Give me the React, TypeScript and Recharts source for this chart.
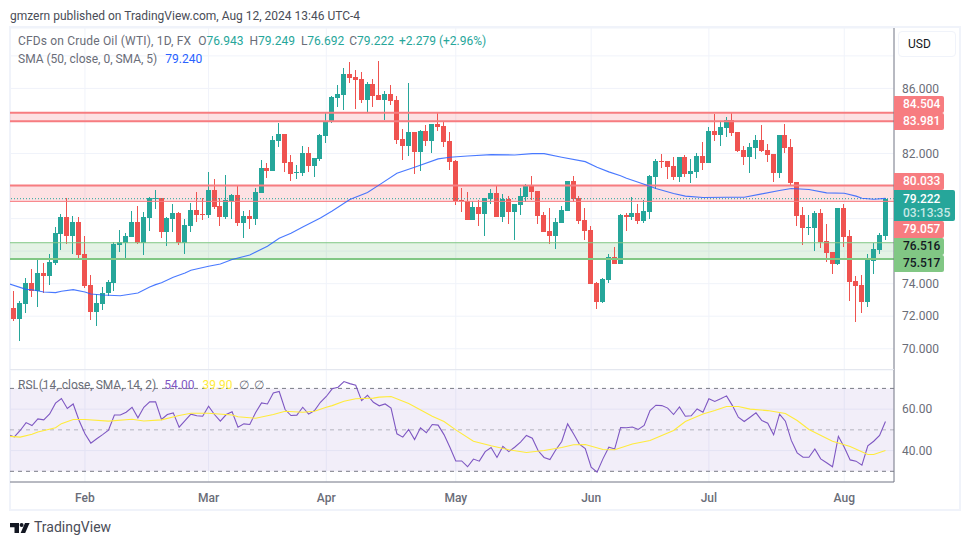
import React from "react";
import {
  ComposedChart, Bar, Line, XAxis, YAxis, CartesianGrid, ReferenceArea, ReferenceLine,
} from "recharts";

const opens = [72.67,72.48,71.81,72.73,74.02,73.53,74.64,74.45,75.25,77.03,78.08,76.91,77.77,75.8,73.9,72.24,72.73,73.41,74.02,76.36,76.48,76.85,77.77,76.48,78.02,79.21,79.25,77.16,77.96,78.33,76.48,77.53,78.51,78.26,78.2,79.74,78.76,78.08,79.06,79.43,77.71,78.14,77.96,79.56,81.09,80.91,82.75,83.18,81.46,80.83,80.8,82.04,81.24,81.67,83.08,83.94,85.42,85.6,86.89,86.71,86.59,85.3,86.28,85.6,85.3,85.66,85.3,82.9,82.47,83.33,82.1,83.39,82.77,83.82,83.7,82.77,81.54,79.13,79.06,77.9,78.69,78.26,79.19,79.56,78.08,79.19,78.39,78.82,79.31,79.99,79.68,78.2,77.22,76.91,77.71,78.45,80.29,79.25,77.9,77.28,74.02,72.85,74.21,75.62,75.19,78.21,78.08,78.33,77.84,78.39,80.55,81.53,81.53,81.22,80.55,81.77,80.73,80.85,81.84,81.41,83.37,83.13,83.56,84.05,83.31,82.21,81.77,82.33,82.82,82.21,81.96,80.79,83.13,82.39,80.24,78.21,77.41,77.41,78.33,76.61,75.93,75.19,78.64,76.92,74.15,73.9,72.86,75.38,76.06,76.943];
const highs = [72.7,73.53,72.91,74.33,74.88,75.43,75.25,75.8,77.46,78.26,79.25,78.14,78.08,76.91,74.51,73.34,73.77,74.2,76.54,77.28,77.1,78.45,78.76,78.39,79.31,79.74,79.25,78.08,78.88,78.39,77.96,78.94,79.62,79.25,80.85,80.42,79.25,80.66,79.49,79.99,78.45,78.51,79.86,81.59,81.4,83.06,83.86,83.18,81.89,81.28,82.47,82.4,81.73,83.2,84.5,85.54,86.22,87.26,87.63,87.14,87.02,86.4,86.59,87.69,85.85,86.22,85.54,83.51,86.34,83.33,83.45,83.76,83.82,84.5,83.94,83.33,81.6,79.86,79.62,79.06,79.13,79.25,79.8,79.99,79.49,79.37,78.88,79.86,80.11,80.6,79.68,78.39,78.63,78.02,78.76,80.29,80.6,79.37,78.63,77.53,74.08,74.33,75.8,76.23,78.27,78.33,79.31,78.88,79.13,80.67,81.65,81.96,81.53,81.77,81.77,81.9,81.65,82.02,82.7,83.62,84.42,83.93,84.23,84.54,83.31,82.45,82.64,83.13,83.74,82.58,81.96,83.13,83.81,82.88,80.24,78.7,78.21,78.45,78.58,77.65,75.93,78.64,78.88,77.29,74.46,74.52,75.81,76.49,77.1,79.249];
const lows = [72.3,71.68,70.45,72.18,73.16,72.54,73.41,73.9,75.13,76.05,76.42,75.8,75.5,73.71,71.75,71.38,72.36,73.22,73.53,75.93,75.5,76.85,76.42,75.74,77.22,78.57,76.79,76.3,77.16,76.36,75.8,77.16,77.77,77.9,78.02,78.57,77.53,77.96,78.0,77.53,76.79,77.34,77.59,79.56,80.48,80.91,82.38,80.85,80.29,80.42,80.62,80.87,80.56,81.54,82.65,83.88,84.86,84.68,86.34,84.74,85.11,84.56,84.86,85.3,84.06,84.99,82.59,81.61,81.85,80.74,80.93,82.47,82.04,83.39,82.4,80.99,78.84,78.39,77.9,77.9,77.53,76.91,78.88,78.08,77.77,77.65,76.66,78.2,79.0,79.13,77.65,77.16,76.42,76.11,77.71,78.45,79.0,77.65,76.66,73.96,72.42,72.79,74.02,75.19,75.19,77.22,77.9,77.65,77.72,77.96,79.81,81.1,80.42,80.36,80.24,80.55,80.18,80.48,80.98,81.41,82.76,82.45,83.0,83.07,82.08,81.28,80.79,81.65,82.08,81.47,80.24,80.48,82.02,80.05,77.53,76.36,76.98,75.99,76.18,75.32,74.58,75.13,76.24,72.92,71.63,72.18,72.55,74.58,75.81,76.692];
const closes = [72.4,71.81,72.79,74.02,73.53,74.64,74.45,75.31,77.1,78.08,76.91,77.77,75.74,73.84,72.24,72.79,73.41,74.08,76.42,76.54,76.91,77.77,76.48,78.08,79.25,79.25,77.16,78.02,78.33,76.48,77.59,78.51,78.2,78.22,79.74,78.69,78.08,79.13,79.43,77.71,78.14,77.96,79.62,81.09,80.91,82.82,83.18,81.4,80.72,80.87,82.04,81.24,81.73,83.14,84.0,85.48,85.66,86.89,86.65,86.53,85.3,86.28,85.54,85.3,85.66,85.23,82.84,82.47,83.33,82.1,83.39,82.77,83.82,83.63,82.71,81.48,79.08,79.06,77.9,78.69,78.26,79.25,79.56,78.08,79.19,78.39,78.88,79.37,79.99,79.62,78.14,77.16,76.91,77.77,78.51,80.29,79.19,77.83,77.22,73.96,72.85,74.27,75.62,75.19,78.21,78.08,78.33,77.84,78.45,80.61,81.53,81.47,81.16,80.55,81.77,80.73,80.91,81.84,81.41,83.37,83.13,83.62,84.05,83.25,82.14,81.77,82.39,82.82,82.14,81.9,80.79,83.13,82.33,80.18,78.15,77.41,77.47,78.33,76.55,75.87,75.19,78.64,76.85,74.09,73.84,72.86,75.44,76.12,76.98,79.222];

const smaIndex = [0,3,4,6,8,9,11,13,14,16,19,22,24,25,26,28,30,31,34,36,38,41,44,46,48,50,53,55,58,61,63,66,69,73,75,78,82,86,89,91,94,98,100,102,104,105,108,110,113,115,118,122,125,128,131,133,136,139,142,144,145,147,149];
const smaValues = [74.0,73.65,73.63,73.49,73.45,73.53,73.63,73.49,73.36,73.3,73.26,73.43,73.8,73.94,74.06,74.39,74.66,74.82,75.07,75.21,75.48,75.76,76.3,76.79,77.1,77.48,78.04,78.47,79.17,79.6,80.07,80.78,81.15,81.67,81.77,81.85,81.93,81.91,81.99,81.99,81.77,81.5,81.15,80.87,80.63,80.48,80.11,79.85,79.54,79.38,79.3,79.31,79.31,79.52,79.73,79.85,79.79,79.58,79.56,79.38,79.25,79.19,79.24];

const rsiValues = [47.7,46.6,49.7,53.5,52.1,55.3,54.8,57.7,62.9,65.1,60.3,62.5,54.5,48.1,43.6,45.7,47.7,49.8,57.2,57.2,58.5,60.9,55.8,60.9,63.5,63.5,55.0,57.4,58.2,51.3,54.5,57.6,56.8,56.6,61.4,57.4,54.2,57.4,58.7,51.3,52.9,52.6,58.4,63.0,62.5,67.8,68.5,59.8,56.9,57.1,60.9,57.6,59.3,63.3,66.1,69.8,70.6,73.3,72.3,71.5,64.1,66.7,63.3,61.6,62.5,60.5,48.1,46.5,50.2,45.3,51.0,48.6,52.6,52.3,47.7,41.6,35.0,35.0,32.2,35.9,34.9,39.5,41.5,36.7,42.0,39.5,41.6,44.1,47.3,46.0,39.9,36.7,35.7,40.4,44.4,52.9,48.1,43.1,41.0,32.0,29.6,36.0,41.6,40.8,51.1,51.0,51.4,50.2,52.1,59.3,61.9,61.7,60.5,57.4,61.1,56.6,56.8,60.1,58.5,65.0,63.7,65.0,66.4,61.7,56.1,54.0,56.1,58.2,54.5,53.2,47.6,57.6,54.2,44.9,38.9,36.8,36.8,40.8,36.0,34.1,32.2,46.9,41.6,35.5,34.9,33.0,42.3,44.5,47.3,54.0];
const rsiSmaIndex = [0,2,4,5,8,9,11,13,17,21,23,26,29,31,34,38,39,42,45,47,50,52,54,55,57,59,62,63,65,68,72,74,76,79,82,85,88,91,94,96,98,101,103,106,109,111,113,115,118,120,122,124,126,129,132,134,136,140,143,146,147,149];
const rsiSmaValues = [46.9,46.5,47.9,49.0,51.0,53.0,55.0,55.0,54.2,55.1,54.3,54.8,56.9,58.0,58.0,57.2,56.3,55.6,57.4,59.0,58.5,59.0,60.9,61.7,63.8,65.0,65.3,65.8,66.1,62.7,56.6,54.0,50.0,44.5,42.3,40.4,39.1,40.0,41.5,42.8,42.9,40.5,40.4,43.2,44.9,47.3,49.7,54.0,57.7,59.3,61.3,61.3,60.0,59.3,57.9,54.5,50.2,44.5,42.0,38.1,38.1,40.0];

const monthTicks = [13,34,54,76,99,119,142];
const monthLabels = ["Feb","Mar","Apr","May","Jun","Jul","Aug"];
const priceTicks = [70,72,74,76,78,80,82,84,86,88];
const shownPriceTicks = [70,72,74,82,86];
const rsiTicks = [40,60];

const redLevels = [84.504,83.981,80.033,79.057];
const greenLevels = [76.516,75.517];
const currentPrice = 79.222;

const UP = "#26a69a";
const DOWN = "#ef5350";
const RED_TAG = "#f77c80";
const GREEN_TAG = "#81c784";
const GRID = "#f0f3fa";
const AXIS = "#787b86";
const TEXT = "#6a6d78";
const FONT = "Roboto, sans-serif";

const X_DOMAIN: [number, number] = [0.265, 150.45];

const rows = opens.map((o, i) => {
  const smaAt = smaIndex.indexOf(i);
  const rsiSmaAt = rsiSmaIndex.indexOf(i);
  return {
    i, o, h: highs[i], l: lows[i], c: closes[i],
    range: [lows[i], highs[i]],
    sma: smaAt >= 0 ? smaValues[smaAt] : null,
    rsi: rsiValues[i],
    rsiSma: rsiSmaAt >= 0 ? rsiSmaValues[rsiSmaAt] : null,
  };
});

function Candle(props: any) {
  const { x, y, width, height, payload } = props;
  const top = Math.min(y, y + height);
  const span = Math.abs(height);
  const { o, h, l, c } = payload;
  const color = c >= o ? UP : DOWN;
  const at = (v: number) => (h === l ? top : top + ((h - v) / (h - l)) * span);
  const cx = Math.floor(x + width / 2) + 0.5;
  const bodyTop = Math.round(at(Math.max(o, c)));
  const bodyBottom = Math.round(at(Math.min(o, c)));
  return (
    <g shapeRendering="crispEdges">
      <rect x={cx - 0.5} y={top} width={1} height={span} fill={color} />
      <rect x={cx - 2.5} y={bodyTop} width={5} height={Math.max(1, bodyBottom - bodyTop)} fill={color} />
    </g>
  );
}

function Tag({ top, height, bg, color, width = 50, children }: any) {
  return (
    <div style={{
      position: "absolute", left: 894, top, width, height, background: bg, color,
      fontSize: 12, fontWeight: 500, lineHeight: height + "px", paddingLeft: 9, boxSizing: "border-box", borderRadius: "0 2px 2px 0",
    }}>{children}</div>
  );
}

function Abs({ x, y, size = 12, color = TEXT, children }: any) {
  return (
    <div style={{ position: "absolute", left: x, top: y, fontSize: size, color, whiteSpace: "pre", lineHeight: "16px" }}>
      {children}
    </div>
  );
}

const gap = (color: string, text: string, left = 0) => (
  <span style={{ color, marginLeft: left }}>{text}</span>
);

export default function App() {
  return (
    <div style={{ position: "absolute", left: 0, top: 0, width: 970, height: 545, background: "#fff", overflow: "hidden", fontFamily: FONT }}>
      <div style={{ position: "absolute", left: 9, top: 26, width: 952, height: 485, border: "2px solid #f0f3fa", boxSizing: "border-box" }} />

      <div style={{ position: "absolute", left: 10, top: 28 }}>
        <ComposedChart width={950} height={342} data={rows} margin={{ top: 0, right: 0, bottom: 0, left: 0 }}>
          <CartesianGrid stroke={GRID} strokeWidth={1} />
          <XAxis dataKey="i" type="number" domain={X_DOMAIN} allowDataOverflow hide ticks={monthTicks} interval={0} />
          <YAxis
            orientation="right" width={66} domain={[68.693, 89.714]} allowDataOverflow ticks={priceTicks} interval={0}
            tickLine={false} axisLine={{ stroke: AXIS }} tickMargin={2}
            tick={{ fill: TEXT, fontSize: 12, fontFamily: FONT }}
            tickFormatter={(v: number) => (shownPriceTicks.includes(v) ? v.toFixed(3) : "")}
          />
          <ReferenceArea y1={redLevels[1]} y2={redLevels[0]} fill="#f23645" fillOpacity={0.15} stroke="none" />
          <ReferenceArea y1={redLevels[3]} y2={redLevels[2]} fill="#f23645" fillOpacity={0.15} stroke="none" />
          <ReferenceArea y1={greenLevels[1]} y2={greenLevels[0]} fill="#4caf50" fillOpacity={0.15} stroke="none" />
          <ReferenceLine y={redLevels[0]} stroke={RED_TAG} strokeWidth={2} />
          <ReferenceLine y={redLevels[1]} stroke={RED_TAG} strokeWidth={2} />
          <ReferenceLine y={redLevels[2]} stroke={RED_TAG} strokeWidth={2} />
          <ReferenceLine y={redLevels[3]} stroke={RED_TAG} strokeWidth={1} />
          <ReferenceLine y={greenLevels[0]} stroke={GREEN_TAG} strokeWidth={1} />
          <ReferenceLine y={greenLevels[1]} stroke={GREEN_TAG} strokeWidth={2} />
          <ReferenceLine y={currentPrice} stroke={UP} strokeWidth={1} strokeDasharray="1 2" />
          <Bar dataKey="range" barSize={5} shape={<Candle />} isAnimationActive={false} />
          <Line dataKey="sma" stroke="#2962ff" strokeWidth={1.1} strokeOpacity={0.85} dot={false} connectNulls type="linear" isAnimationActive={false} />
        </ComposedChart>
      </div>

      <div style={{ position: "absolute", left: 10, top: 370 }}>
        <ComposedChart width={950} height={140} data={rows} margin={{ top: 0, right: 0, bottom: 0, left: 0 }}>
          <CartesianGrid stroke={GRID} strokeWidth={1} />
          <XAxis
            dataKey="i" type="number" domain={X_DOMAIN} allowDataOverflow ticks={monthTicks} interval={0} height={28}
            tickLine={false} axisLine={{ stroke: AXIS }} tickMargin={5}
            tick={{ fill: TEXT, fontSize: 12, fontFamily: FONT, fontWeight: 500 }}
            tickFormatter={(v: number) => monthLabels[monthTicks.indexOf(v)]}
          />
          <YAxis
            orientation="right" width={66} domain={[24.84, 78.88]} allowDataOverflow ticks={rsiTicks} interval={0}
            tickLine={false} axisLine={{ stroke: AXIS }} tickMargin={2}
            tick={{ fill: TEXT, fontSize: 12, fontFamily: FONT }}
            tickFormatter={(v: number) => v.toFixed(2)}
          />
          <ReferenceArea y1={30} y2={70} fill="#7e57c2" fillOpacity={0.1} stroke="none" />
          <ReferenceLine y={70} stroke={AXIS} strokeDasharray="4 4" />
          <ReferenceLine y={50} stroke={AXIS} strokeOpacity={0.5} strokeDasharray="4 4" />
          <ReferenceLine y={30} stroke={AXIS} strokeDasharray="4 4" />
          <Line dataKey="rsi" stroke="#7e57c2" strokeWidth={1.1} dot={false} type="linear" isAnimationActive={false} />
          <Line dataKey="rsiSma" stroke="#ffeb3b" strokeWidth={1.1} dot={false} connectNulls type="linear" isAnimationActive={false} />
        </ComposedChart>
      </div>
      <div style={{ position: "absolute", left: 10, top: 369, width: 884, height: 1, background: "#e4e7ef" }} />

      <Tag top={96} height={17} bg={RED_TAG} color="#fff">84.504</Tag>
      <Tag top={113} height={17} bg={RED_TAG} color="#fff">83.981</Tag>
      <Tag top={173} height={17} bg={RED_TAG} color="#fff">80.033</Tag>
      <Tag top={221} height={17} bg={RED_TAG} color="#fff">79.057</Tag>
      <Tag top={238} height={17} bg={GREEN_TAG} color="#131722">76.516</Tag>
      <Tag top={255} height={17} bg={GREEN_TAG} color="#131722">75.517</Tag>
      <div style={{ position: "absolute", left: 894, top: 190, width: 61, height: 31, background: UP, color: "#fff", fontSize: 12, fontWeight: 500, paddingLeft: 9, paddingTop: 2, boxSizing: "border-box", borderRadius: "0 2px 2px 0", lineHeight: "14px" }}>
        <div>79.222</div>
        <div style={{ color: "#c8e9e6" }}>03:13:35</div>
      </div>

      <div style={{ position: "absolute", left: 898, top: 31, width: 58, height: 26, border: "1px solid #f0f3fa", borderRadius: 4, boxSizing: "border-box", fontSize: 12, color: "#131722", lineHeight: "24px", paddingLeft: 9 }}>USD</div>

      <Abs x={10} y={8} color="#4a4d57">gmzern published on TradingView.com, Aug 12, 2024 13:46 UTC-4</Abs>
      <Abs x={18} y={33}><span style={{ letterSpacing: 0.17 }}>CFDs on Crude Oil (WTI), 1D, FX</span><span style={{ marginLeft: 7 }}>O</span>{gap(UP, "76.943")}<span style={{ marginLeft: 6 }}>H</span>{gap(UP, "79.249")}<span style={{ marginLeft: 6 }}>L</span>{gap(UP, "76.692")}<span style={{ marginLeft: 5 }}>C</span>{gap(UP, "79.222")}{gap(UP, "+2.279 (+2.96%)", 5)}</Abs>
      <Abs x={18} y={51}>SMA (50, close, 0, SMA, 5){gap("#2962ff", "79.240", 8)}</Abs>
      <Abs x={18} y={377}>RSI (14, close, SMA, 14, 2){gap("#7e57c2", "54.00", 8)}{gap("#ffeb3b", "39.90", 8)}<span style={{ marginLeft: 6 }}>∅</span><span style={{ marginLeft: 5 }}>∅</span></Abs>

      <svg style={{ position: "absolute", left: 10, top: 522 }} width={20} height={11} viewBox="0 0 20 11">
        <path d="M0 1h9v10H4.5V5.2H0z" fill="#131722" />
        <circle cx={11.6} cy={3} r={2} fill="#131722" />
        <path d="M15 1h4.6l-4.4 10h-4.6z" fill="#131722" />
      </svg>
      <Abs x={34} y={519} size={14} color="#4a4d57">TradingView</Abs>
    </div>
  );
}
